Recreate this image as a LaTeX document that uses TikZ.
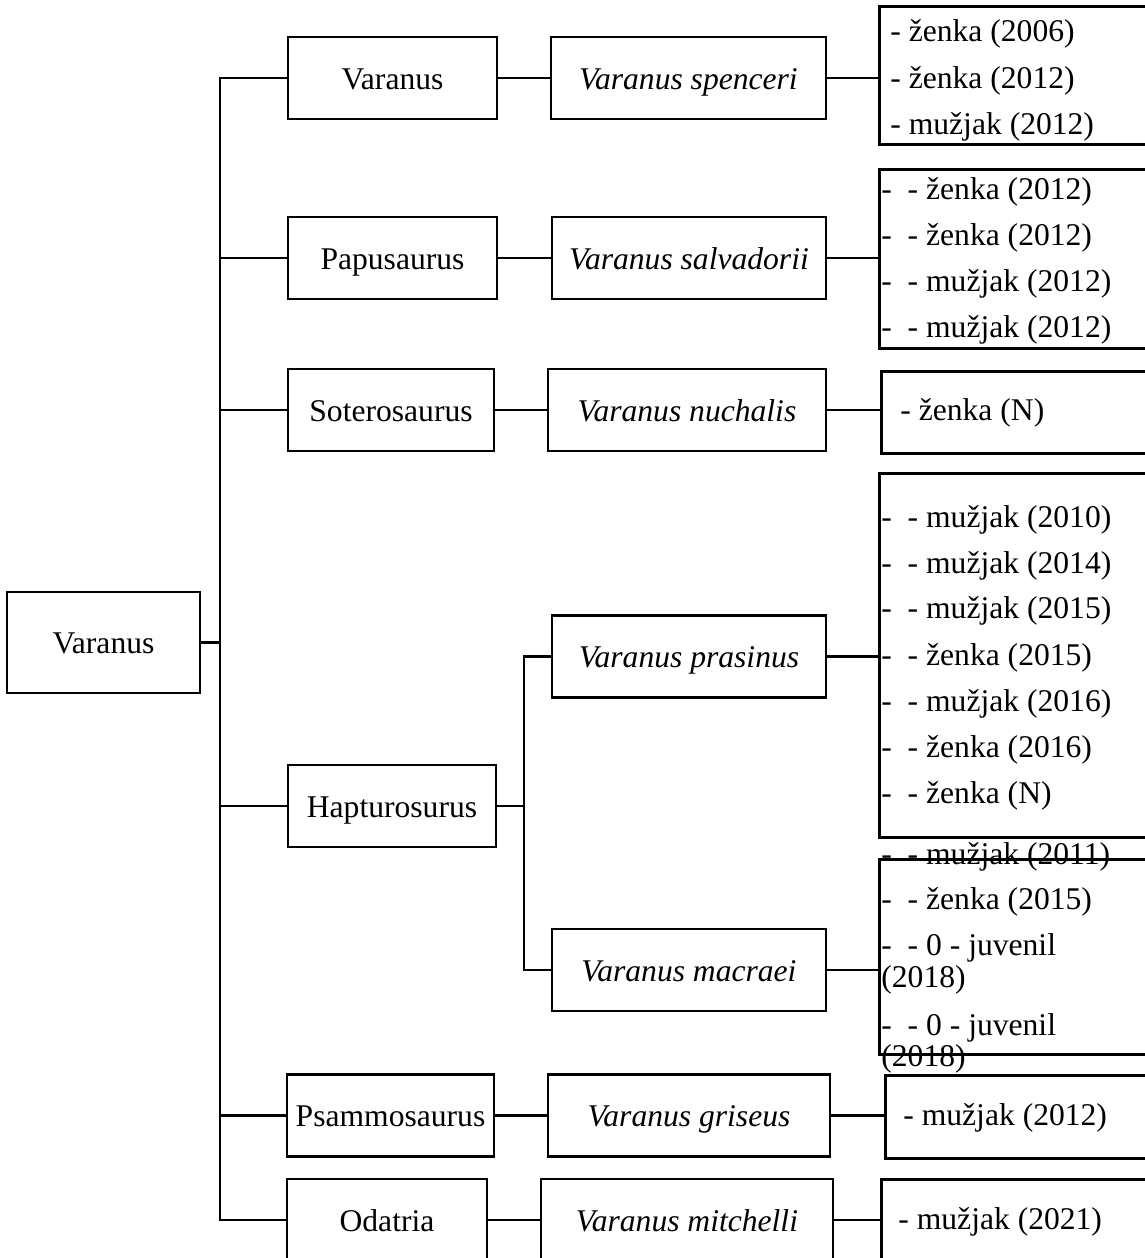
\documentclass[tikz,border=0pt]{standalone}
\usepackage{fontspec}
\setmainfont{Liberation Serif}
\usepackage{tikz}

\begin{document}
\begin{tikzpicture}[x=0.5pt, y=-0.5pt,
    font=\fontsize{15.8}{23}\selectfont,
    box/.style={draw, line width=1.3pt, inner sep=0pt, minimum height=41pt, text height=14pt, text depth=3pt},
    leaf/.style={draw, line width=1.3pt, inner sep=0pt, anchor=north west, minimum width=150pt},
    entry/.style={anchor=base west, inner sep=0pt},
    link/.style={line width=1.3pt}]
    \useasboundingbox (0,0) rectangle (1145,1258);
    \clip (0,0) rectangle (1145,1258);
    % Root
    \node[box, minimum width=96.5pt, minimum height=50.5pt] (Root) at (103.5,642.5) {Varanus};
    \coordinate (Trunk) at (220,642.5);
    % Subgenus Layer
    \foreach \name/\i/\x/\y/\w in {Varanus/1/392.5/78/209, Papusaurus/2/392.5/258/209, Soterosaurus/3/391/410/206, Hapturosurus/4/392/806/208, Psammosaurus/5/390.5/1115.5/207, Odatria/6/387/1220/200} {
        \node[box, minimum width=\w*0.5pt] (Sub-\i) at (\x,\y) {\name};
    }
    % Species Layer
    \foreach \name/\i/\x/\y/\w in {Varanus spenceri/1/688.5/78/275, Varanus salvadorii/2/689/258/274, Varanus nuchalis/3/687/410/278, Varanus prasinus/4/689/656.5/274, Varanus macraei/5/689/970/274, Varanus griseus/6/689/1115.5/282, Varanus mitchelli/7/687/1220/292} {
        \node[box, minimum width=\w*0.5pt] (Species-\i) at (\x,\y) {\itshape \name};
    }
    % Individuals
    \foreach \i/\x/\y/\h in {1/878/5/138, 2/878/168/179, 3/880/370/82, 4/878/472/364, 5/878/858/195, 6/884/1074/83, 7/880/1178/84} {
        \node[leaf, minimum height=\h*0.5pt] (Leaf-\i) at (\x,\y) {};
    }
    \foreach \txt/\x/\y [count=\n] in {- ženka (2006)/890/41, - ženka (2012)/890/88, - mužjak (2012)/890/134,
        -\ \ - ženka (2012)/881/199, -\ \ - ženka (2012)/881/245, -\ \ - mužjak (2012)/881/291, -\ \ - mužjak (2012)/881/337,
        - ženka (N)/900/420,
        -\ \ - mužjak (2010)/881/527, -\ \ - mužjak (2014)/881/573, -\ \ - mužjak (2015)/881/618, -\ \ - ženka (2015)/881/665,
        -\ \ - mužjak (2016)/881/711, -\ \ - ženka (2016)/881/757, -\ \ - ženka (N)/881/803,
        -\ \ - mužjak (2011)/881/864, -\ \ - ženka (2015)/881/909, -\ \ - 0 - juvenil/881/955, (2018)/881/987,
        -\ \ - 0 - juvenil/881/1035, (2018)/881/1066,
        - mužjak (2012)/903/1125,
        - mužjak (2021)/898/1229} {
        \node[entry] (Entry-\n) at (\x,\y) {\txt};
    }
    % Connectors
    \draw[link] (Root.east) -- (Trunk);
    \foreach \i in {1,...,6} {
        \draw[link] (Trunk) |- (Sub-\i.west);
    }
    \foreach \i/\j in {1/1,2/2,3/3,5/6,6/7} {
        \draw[link] (Sub-\i) -- (Species-\j);
    }
    \coordinate (Fork) at (524,806);
    \draw[link] (Sub-4.east) -- (Fork) |- (Species-4.west);
    \draw[link] (Fork) |- (Species-5.west);
    \foreach \i in {1,...,7} {
        \draw[link] (Species-\i.east) -- (Species-\i.east -| Leaf-\i.west);
    }
\end{tikzpicture}
\end{document}
